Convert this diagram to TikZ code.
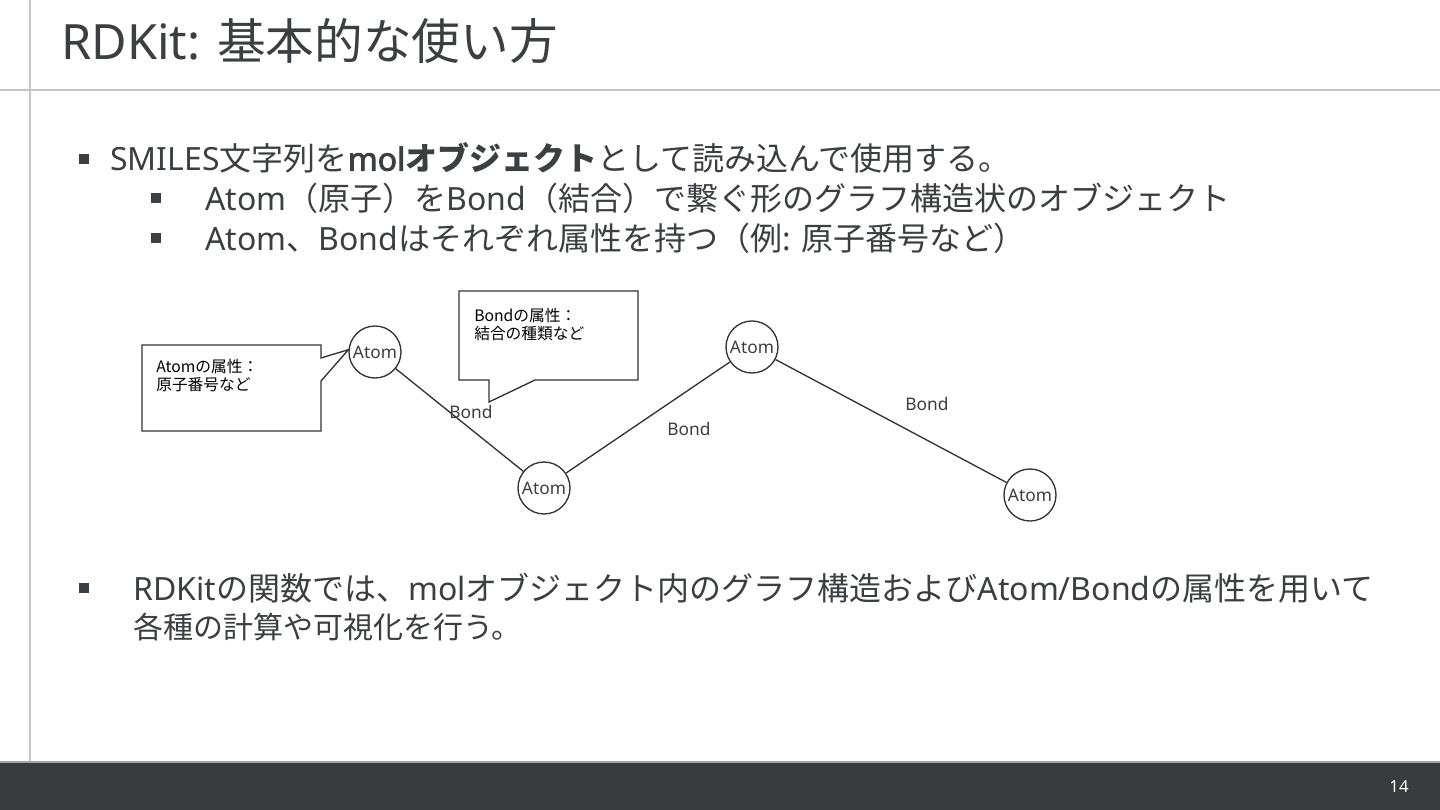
\documentclass[tikz,border=0pt]{standalone}
\usepackage{fontspec}
\setmainfont{Noto Sans CJK JP}
\newfontfamily\lat{Noto Sans}[AutoFakeBold=2.5]
\definecolor{ink}{RGB}{60,63,66}
\definecolor{linec}{RGB}{51,51,51}
\definecolor{rulec}{RGB}{196,196,196}
\definecolor{footc}{RGB}{56,60,63}
\definecolor{footline}{RGB}{160,163,165}
\begin{document}
\begin{tikzpicture}[x=0.75pt,y=-0.75pt,
  sq/.style={fill=ink,minimum size=7.5pt,inner sep=0pt,draw=none},
  body/.style={anchor=west,inner sep=0pt,text=ink,font=\fontsize{24}{28}\selectfont},
  atom/.style={circle,draw=linec,line width=1pt,minimum size=39pt,inner sep=0pt,text=ink,font=\lat\fontsize{13}{15}\selectfont},
  bondlbl/.style={inner sep=0pt,text=ink,font=\lat\fontsize{13}{15}\selectfont},
  calltxt/.style={anchor=north west,inner sep=0pt,align=left,text=black,font=\fontsize{11.8}{13.6}\selectfont},
  callout/.style={draw=linec,line width=1pt,fill=white},
  bond/.style={draw=linec,line width=1pt}]
\useasboundingbox (0,0) rectangle (1440,810);
\fill[white] (0,0) rectangle (1440,810);
% frame rules
\draw[rulec,line width=1.5pt] (30,0) -- (30,762);
\draw[rulec,line width=1.5pt] (0,90) -- (1440,90);
% footer
\fill[footc] (0,762) rectangle (1440,810);
\draw[footline,line width=1.5pt] (0,762) -- (1440,762);
\node[anchor=center,inner sep=0pt,text=white,font=\lat\fontsize{12.5}{14}\selectfont] (pnum) at (1399,787) {14};
% title
\node[anchor=base west,inner sep=0pt,text=ink,font=\fontsize{36.5}{42}\selectfont] (title) at (61,60) {{\lat RDKit: }基本的な使い方};
% bullets
\node[sq] (b1) at (84,159) {};
\node[body] (t1) at (110,158) {{\lat SMILES}文字列を\textbf{{\lat mol}オブジェクト}として読み込んで使用する。};
\node[sq] (b2) at (156,198) {};
\node[body] (t2) at (205,198) {{\lat Atom}（原子）を{\lat Bond}（結合）で繋ぐ形のグラフ構造状のオブジェクト};
\node[sq] (b3) at (156,238) {};
\node[body] (t3) at (205,238) {{\lat Atom}、{\lat Bond}はそれぞれ属性を持つ（例{\lat : }原子番号など）};
\node[sq] (b4) at (84,588) {};
\node[body] (t4) at (133,588) {{\lat RDKit}の関数では、{\lat mol}オブジェクト内のグラフ構造および{\lat Atom/Bond}の属性を用いて};
\node[body,font=\fontsize{22.5}{26}\selectfont] (t5) at (133,627) {各種の計算や可視化を行う。};
% atoms
\node[atom] (a1) at (375,352) {Atom};
\node[atom] (a2) at (544,488) {Atom};
\node[atom] (a3) at (752,347) {Atom};
\node[atom] (a4) at (1030,495) {Atom};
% bonds
\draw[bond] (a1) -- (a2);
\draw[bond] (a2) -- (a3);
\draw[bond] (a3) -- (a4);
\node[bondlbl] (l1) at (471,412) {Bond};
\node[bondlbl] (l2) at (689,429) {Bond};
\node[bondlbl] (l3) at (927,404) {Bond};
% callout 1 (atom)
\path[callout] (142,345) -- (321,345) -- (321,358) -- (a1.175) -- (321,381) -- (321,431) -- (142,431) -- cycle;
\node[calltxt] (c1) at (156,359) {Atomの属性：\\原子番号など};
% callout 2 (bond)
\coordinate (tip2) at (489,402);
\path[callout] (459,291) -- (638,291) -- (638,380) -- (535,380) -- (tip2) -- (489,380) -- (459,380) -- cycle;
\node[calltxt] (c2) at (474,308) {Bondの属性：\\結合の種類など};
\end{tikzpicture}
\end{document}
